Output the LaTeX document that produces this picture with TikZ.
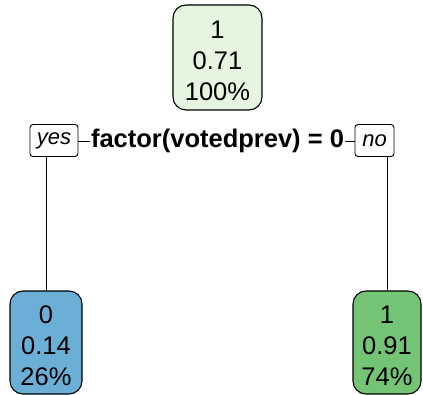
\documentclass[tikz,border=0pt]{standalone}
\usepackage{fontspec}
\setmainfont{Liberation Sans}
\definecolor{rootfill}{HTML}{E5F5E0}
\definecolor{leafblue}{HTML}{6BAED6}
\definecolor{leafgreen}{HTML}{74C476}
\begin{document}
\begin{tikzpicture}[x=1pt,y=-1pt,
  treebox/.style={draw=black, line width=1.1pt, rounded corners=13pt, inner sep=0pt},
  boxtext/.style={align=center, font=\fontsize{25.5}{31}\selectfont, inner sep=0pt},
  splitlab/.style={font=\bfseries\fontsize{25.5}{30}\selectfont, inner sep=1pt},
  answer/.style={draw=black, line width=0.9pt, rounded corners=3pt, fill=white,
    font=\itshape\fontsize{22}{24}\selectfont, inner sep=0pt, minimum height=32pt},
  conn/.style={draw=black, line width=0.9pt}]
\useasboundingbox (0,0) rectangle (423,395);
\node[treebox, fill=rootfill, minimum width=89pt, minimum height=105pt] (root) at (217.5,57.5) {};
\node[boxtext, yshift=-3pt] (roottext) at (root.center) {1\\0.71\\100\%};
\node[splitlab] (split) at (217.5,141) {factor(votedprev) = 0};
\node[answer, minimum width=48pt] (yes) at (54,140.5) {yes};
\node[answer, minimum width=39pt] (no) at (374.5,140.5) {no};
\node[treebox, fill=leafblue, minimum width=72pt, minimum height=103pt] (leafL) at (46,342.5) {};
\node[boxtext, yshift=-3pt] (leafLtext) at (leafL.center) {0\\0.14\\26\%};
\node[treebox, fill=leafgreen, minimum width=68pt, minimum height=103pt] (leafR) at (387,342.5) {};
\node[boxtext, yshift=-3pt] (leafRtext) at (leafR.center) {1\\0.91\\74\%};
\draw[conn] (yes.east |- split.west) -- (split.west);
\draw[conn] (split.east) -- (no.west |- split.east);
\draw[conn] (yes.south -| leafL.north) -- (leafL.north);
\draw[conn] (no.south -| leafR.north) -- (leafR.north);
\end{tikzpicture}
\end{document}
